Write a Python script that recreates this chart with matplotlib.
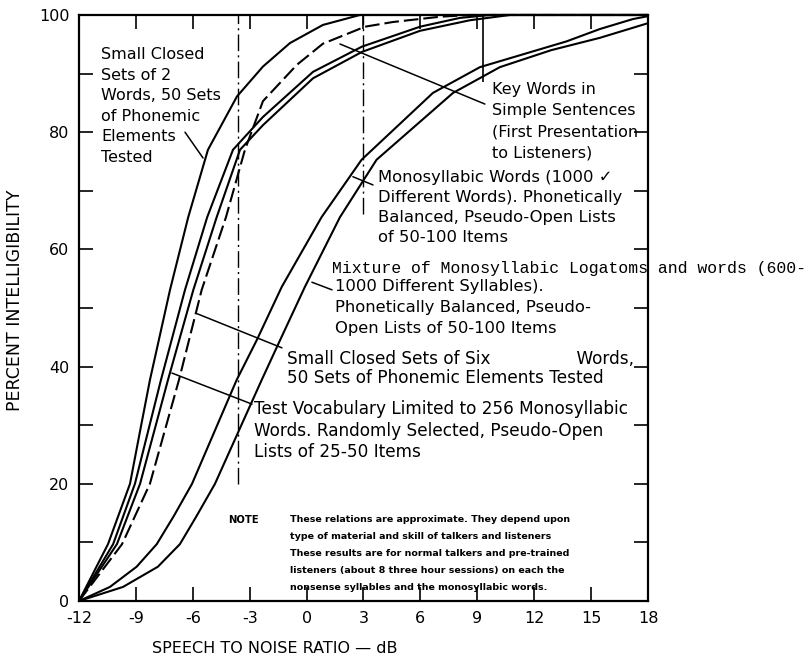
import matplotlib
matplotlib.use("Agg")
import matplotlib.pyplot as plt

# Percent intelligibility vs speech-to-noise ratio (dB)
x_ticks = [-12, -9, -6, -3, 0, 3, 6, 9, 12, 15, 18]
y_ticks = [0, 20, 40, 60, 80, 100]

# small closed sets of 2 words (leftmost solid curve)
two_words_x = [-12, -10.47, -9.31, -8.75, -8.26, -7.20, -6.24, -5.20, -3.67, -2.30, -0.88, 0.86, 2.81, 18]
two_words_y = [0, 9.7, 20.0, 29.5, 37.7, 53.1, 65.5, 77.0, 86.1, 91.2, 95.2, 98.3, 100, 100]

# small closed sets of six words
six_words_x = [-12, -10.20, -9.05, -7.68, -6.41, -5.24, -3.88, -2.30, 0.34, 2.92, 5.98, 8.08, 9.67, 18]
six_words_y = [0, 9.7, 20.0, 37.7, 53.1, 65.5, 77.0, 82.6, 90.3, 94.6, 98.0, 99.5, 100, 100]

# test vocabulary limited to 256 monosyllabic words
vocab_256_x = [-12, -10.00, -8.78, -7.31, -5.97, -4.74, -3.51, -2.30, 0.34, 2.92, 5.98, 8.61, 10.72, 18]
vocab_256_y = [0, 9.7, 20.0, 37.7, 53.1, 65.5, 77.0, 81.2, 89.2, 93.7, 97.3, 99.1, 100, 100]

# key words in simple sentences (dashed curve)
key_words_x = [-12, -9.73, -8.26, -6.73, -5.53, -4.25, -3.25, -2.30, -0.51, 0.86, 3.08, 4.55, 7.03, 8.61, 18]
key_words_y = [0, 9.7, 20.0, 37.7, 53.1, 65.5, 77.0, 85.3, 91.5, 95.1, 98.0, 98.8, 99.7, 100, 100]

# monosyllabic words (1000 different words)
mono_words_x = [-12, -10.37, -8.96, -7.90, -7.00, -6.04, -3.69, -2.63, -1.31, 0.79, 2.90, 6.66, 9.14, 13.71, 15.46, 17.2, 18]
mono_words_y = [0, 2.4, 5.85, 9.7, 14.5, 20.0, 37.7, 44.5, 53.6, 65.5, 75.3, 86.7, 91.1, 95.5, 97.6, 99.3, 99.8]

# mixture of monosyllabic logatoms and words
logatoms_x = [-12, -9.68, -7.84, -6.68, -5.80, -4.83, -2.37, -1.40, -0.09, 1.76, 3.69, 7.72, 10.19, 12.9, 15.46, 18]
logatoms_y = [0, 2.4, 5.85, 9.7, 14.5, 20.0, 37.7, 44.5, 53.6, 65.5, 75.3, 86.7, 91.1, 94.0, 96.1, 98.6]

note_lines = [
    "These relations are approximate. They depend upon",
    "type of material and skill of talkers and listeners",
    "These results are for normal talkers and pre-trained",
    "listeners (about 8 three hour sessions) on each the",
    "nonsense syllables and the monosyllabic words.",
]


def label(ax, text, tip, start, y_text, x_text, spacing, size=11.5):
    ax.annotate("", xy=tip, xytext=start,
                arrowprops=dict(arrowstyle="-", lw=1.1, color="black",
                                shrinkA=0, shrinkB=0))
    ax.text(x_text, y_text, text, fontsize=size, ha="left", va="top",
            linespacing=spacing)


def main():
    plt.rcParams["font.family"] = ["DejaVu Sans"]
    fig = plt.figure(figsize=(8.1, 6.63), dpi=100)
    ax = fig.add_axes([0.0975, 0.0935, 0.7025, 0.8839])

    solid = dict(color="black", lw=1.5, clip_on=False, solid_capstyle="butt")
    ax.plot(two_words_x, two_words_y, **solid)
    ax.plot(six_words_x, six_words_y, **solid)
    ax.plot(vocab_256_x, vocab_256_y, **solid)
    ax.plot(key_words_x, key_words_y, color="black", lw=1.5, clip_on=False,
            dashes=(7, 2.4))
    ax.plot(mono_words_x, mono_words_y, **solid)
    ax.plot(logatoms_x, logatoms_y, **solid)

    # dash-dot reference lines and the bracket beside the key-words label
    ax.vlines(-3.6, 20, 100, colors="black", lw=1.0, linestyles=[(0, (12, 3, 1.5, 3))])
    ax.vlines(3.0, 66, 100, colors="black", lw=1.0, linestyles=[(0, (12, 3, 1.5, 3))])
    ax.vlines(9.3, 88.6, 100, colors="black", lw=1.2)

    ax.set_xlim(-12, 18)
    ax.set_ylim(0, 100)
    ax.set_xticks(x_ticks)
    ax.set_xticklabels([str(v) for v in x_ticks])
    ax.set_yticks(y_ticks)
    ax.set_yticks([10, 30, 50, 70, 90], minor=True)
    ax.tick_params(axis="both", which="both", direction="in", length=10,
                   width=1.2, top=True, right=True, labelsize=11.5)
    ax.tick_params(axis="x", pad=7)
    ax.tick_params(axis="y", pad=7)
    for spine in ax.spines.values():
        spine.set_linewidth(1.6)

    label(ax, "Small Closed\nSets of 2\nWords, 50 Sets\nof Phonemic\nElements\nTested",
          (-5.46, 75.6), (-6.41, 80.0), 94.5, -10.84, 1.46)
    label(ax, "Key Words in\nSimple Sentences\n(First Presentation\nto Listeners)",
          (1.76, 95.05), (9.40, 84.8), 88.6, 9.77, 1.51)
    label(ax, "Monosyllabic Words (1000 \u2713\nDifferent Words). Phonetically\n"
              "Balanced, Pseudo-Open Lists\nof 50-100 Items",
          (2.44, 72.4), (3.50, 71.0), 73.5, 3.76, 1.42, 11.8)
    label(ax, "1000 Different Syllables).\nPhonetically Balanced, Pseudo-\n"
              "Open Lists of 50-100 Items",
          (0.28, 54.4), (1.34, 53.1), 54.9, 1.50, 1.49, 11.8)
    ax.text(1.34, 56.8, "Mixture of Monosyllabic Logatoms and words (600-",
            family=["Liberation Mono", "DejaVu Sans Mono"], fontsize=11.9,
            ha="left", va="center")
    label(ax, "Small Closed Sets of Six                Words,\n"
              "50 Sets of Phonemic Elements Tested",
          (-5.83, 49.1), (-1.30, 43.2), 42.8, -1.04, 1.08, 12.2)
    label(ax, "Test Vocabulary Limited to 256 Monosyllabic\n"
              "Words. Randomly Selected, Pseudo-Open\nLists of 25-50 Items",
          (-7.10, 38.9), (-2.88, 33.6), 34.3, -2.77, 1.25, 12.2)

    ax.text(-4.15, 13.8, "NOTE", fontsize=7.2, fontweight="bold", ha="left", va="center")
    ax.text(-0.88, 14.7, "\n".join(note_lines), fontsize=6.8, fontweight="bold",
            ha="left", va="top", linespacing=2.13)

    fig.text(0.0185, 0.5475, "PERCENT INTELLIGIBILITY", rotation=90, fontsize=12.5,
             ha="center", va="center")
    fig.text(0.1877, 0.0226, "SPEECH TO NOISE RATIO \u2014 dB", fontsize=11.5,
             ha="left", va="center")

    fig.savefig("out.png", dpi=100, facecolor="white")


if __name__ == "__main__":
    main()
